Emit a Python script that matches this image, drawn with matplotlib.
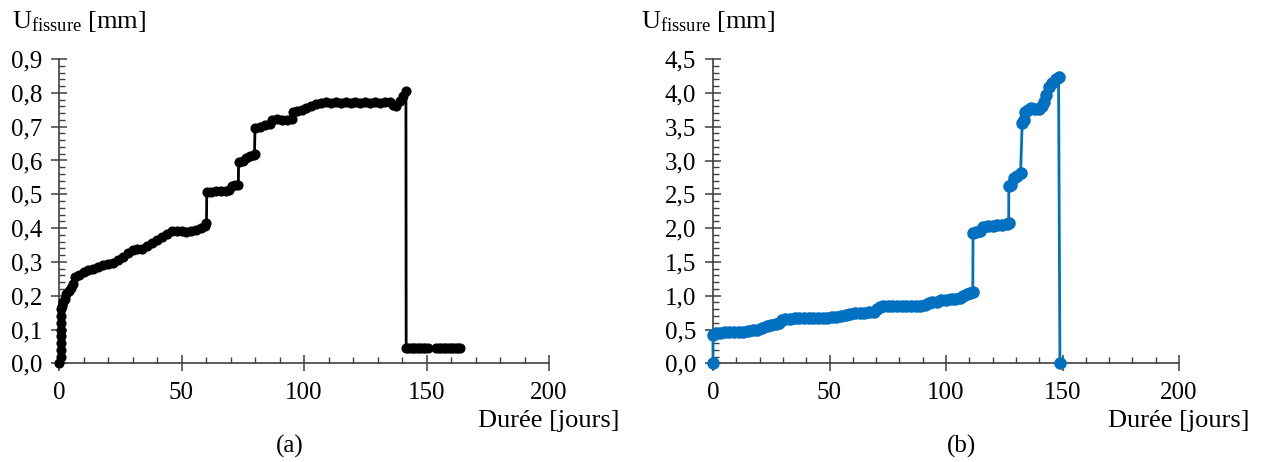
import numpy as np
import matplotlib
matplotlib.use("Agg")
import matplotlib.pyplot as plt
from matplotlib.ticker import MultipleLocator, FuncFormatter

# ---------------- data ----------------
# Panel (a): black series, duration [days] and crack opening [mm]
t_a = [0, 0.7, 0.7, 0.7, 0.7, 0.7, 0.7, 0.7, 0.7, 1.2, 1.8, 2.5, 3.0, 4.0, 5.0, 5.8, 6.5, 8, 10, 12, 14, 16, 18, 20,
       22, 24, 26, 28, 30, 32, 34, 36, 38, 40, 42, 44, 46, 48, 50, 52, 54, 56,
       58, 59.5, 60.2, 60.3, 62, 64, 66, 68, 69.5, 70.5, 72, 73.2, 73.3, 75,
       76.5, 78, 79.5, 79.8, 80, 82, 84, 86, 87, 89, 91, 93, 95, 95.5, 97, 99,
       101, 103, 105, 107, 109, 111, 113, 115, 117, 119, 121, 123, 125, 127,
       129, 131, 133, 135, 136.5, 137.5, 139, 140.5, 141.6, 141.7, 142.5, 143.5,
       144.5, 145.5, 146.5, 147.5, 148.5, 149.5, 150.7, np.nan, 154, 155, 156,
       157, 158, 159, 160, 161, 162, 163, 163.7]
u_a = [0.0, 0.02, 0.04, 0.06, 0.08, 0.10, 0.12, 0.14, 0.16, 0.17, 0.18, 0.19, 0.205, 0.215, 0.222, 0.235, 0.255, 0.262,
       0.27, 0.277, 0.28, 0.285, 0.29, 0.293, 0.298, 0.305, 0.315, 0.327, 0.335,
       0.337, 0.338, 0.348, 0.357, 0.365, 0.373, 0.383, 0.39, 0.392, 0.39,
       0.389, 0.391, 0.393, 0.4, 0.405, 0.414, 0.506, 0.508, 0.51, 0.51, 0.511,
       0.512, 0.524, 0.527, 0.528, 0.596, 0.598, 0.606, 0.612, 0.617, 0.62,
       0.695, 0.698, 0.704, 0.707, 0.72, 0.722, 0.721, 0.72, 0.722, 0.743,
       0.746, 0.749, 0.754, 0.76, 0.766, 0.77, 0.772, 0.77, 0.772, 0.771, 0.772,
       0.771, 0.772, 0.77, 0.772, 0.771, 0.773, 0.771, 0.774, 0.772, 0.765,
       0.762, 0.776, 0.79, 0.805, 0.044, 0.044, 0.044, 0.044, 0.044, 0.044,
       0.044, 0.044, 0.044, 0.044, np.nan, 0.044, 0.044, 0.044, 0.044, 0.044,
       0.044, 0.044, 0.044, 0.044, 0.044, 0.044]

# Panel (b): blue series
t_b = [0, 0, 1.5, 3, 5, 7, 9, 11, 13, 15, 17, 19, 21, 23, 25, 27, 28.5, 29.5,
       31, 33, 35, 37, 39, 41, 43, 45, 47, 49, 51, 53, 55, 57, 59, 61, 63, 65,
       67, 69, 70.3, 71.5, 73, 75, 77, 79, 81, 83, 85, 87, 89, 91, 92.5, 94,
       96, 98, 100, 102, 104, 106, 107.5, 109, 110.5, 111.5, 111.6, 113, 114.8,
       116, 118, 120, 122, 124, 126, 126.9, 126.95, 128, 129, 130.5, 132,
       132.7, 133.3, 134, 135, 136.5, 138, 140, 141, 142, 143, 144, 145.5, 147,
       148.3, 148.9]
u_b = [0.0, 0.42, 0.45, 0.455, 0.46, 0.465, 0.465, 0.465, 0.47, 0.48, 0.49,
       0.5, 0.52, 0.55, 0.57, 0.585, 0.6, 0.64, 0.655, 0.66, 0.665, 0.665,
       0.665, 0.665, 0.665, 0.67, 0.67, 0.675, 0.68, 0.685, 0.695, 0.71, 0.735,
       0.745, 0.75, 0.75, 0.755, 0.765, 0.81, 0.83, 0.845, 0.848, 0.85, 0.85,
       0.85, 0.85, 0.85, 0.85, 0.852, 0.86, 0.89, 0.905, 0.91, 0.93, 0.94,
       0.945, 0.95, 0.96, 1.0, 1.02, 1.04, 1.06, 1.93, 1.94, 1.95, 2.01, 2.03,
       2.035, 2.04, 2.05, 2.06, 2.08, 2.62, 2.64, 2.74, 2.77, 2.81, 3.55, 3.6,
       3.72, 3.75, 3.77, 3.76, 3.76, 3.8, 3.87, 3.97, 4.08, 4.15, 4.2, 4.24,
       0.0]

x_label = "Durée [jours]"
y_label = r"$\mathregular{U_{fissure}}$ [mm]"
panel_labels = ["(a)", "(b)"]

# ---------------- figure ----------------
plt.rcParams["font.family"] = ["Liberation Serif", "DejaVu Serif"]
plt.rcParams["mathtext.fontset"] = "custom"
plt.rcParams["mathtext.rm"] = "Liberation Serif"

W, H = 1263, 462
fig = plt.figure(figsize=(W / 100, H / 100), dpi=100)

def px_axes(x0, x1, ytop, ybot):
    return [x0 / W, 1 - ybot / H, (x1 - x0) / W, (ybot - ytop) / H]

axA = fig.add_axes(px_axes(59, 549, 59.1, 363.3))
axB = fig.add_axes(px_axes(713, 1179, 59.1, 363.3))

axis_col = "#3f3f3f"

def style(ax, ymax, ymaj, ymin):
    ax.set_xlim(0, 200)
    ax.set_ylim(0, ymax)
    for s in ["top", "right"]:
        ax.spines[s].set_visible(False)
    for s in ["left", "bottom"]:
        ax.spines[s].set_color(axis_col)
        ax.spines[s].set_linewidth(1.2)
        ax.spines[s].set_clip_on(False)
    ax.xaxis.set_major_locator(MultipleLocator(50))
    ax.xaxis.set_minor_locator(MultipleLocator(10))
    ax.yaxis.set_major_locator(MultipleLocator(ymaj))
    ax.yaxis.set_minor_locator(MultipleLocator(ymin))
    ax.yaxis.set_major_formatter(FuncFormatter(lambda v, p: f"{v:.1f}".replace(".", ",")))
    ax.xaxis.set_major_formatter(FuncFormatter(lambda v, p: f"{v:.0f}"))
    ax.tick_params(which="major", direction="inout", length=11.5, width=1.1,
                   color=axis_col, labelsize=18, labelcolor="black")
    ax.tick_params(which="minor", direction="in", length=4, width=1.0,
                   color=axis_col)
    ax.tick_params(axis="y", which="major", pad=6.5)
    ax.tick_params(axis="x", which="major", pad=8)
    ax.set_facecolor("none")

style(axA, 0.9, 0.1, 0.02)
style(axB, 4.5, 0.5, 0.1)

axA.plot(t_a, u_a, color="black", lw=2.0, marker="o", ms=6.3, mec="black",
         mfc="black", clip_on=False, zorder=3)
axB.plot(t_b, u_b, color="#0070C0", lw=2.0, marker="o", ms=8, mec="#0070C0",
         mfc="#0070C0", clip_on=False, zorder=3)

# axis titles and panel labels
fig.text(12 / W, 1 - 28 / H, y_label, fontsize=19, ha="left", va="baseline")
fig.text(641 / W, 1 - 28 / H, y_label, fontsize=19, ha="left", va="baseline")
fig.text(620 / W, 1 - 427 / H, x_label, fontsize=19, ha="right", va="baseline")
fig.text(1250 / W, 1 - 427 / H, x_label, fontsize=19, ha="right", va="baseline")
fig.text(290 / W, 1 - 453 / H, panel_labels[0], fontsize=18, ha="center", va="baseline")
fig.text(962 / W, 1 - 453 / H, panel_labels[1], fontsize=18, ha="center", va="baseline")

fig.savefig("out.png", dpi=100, facecolor="white")
